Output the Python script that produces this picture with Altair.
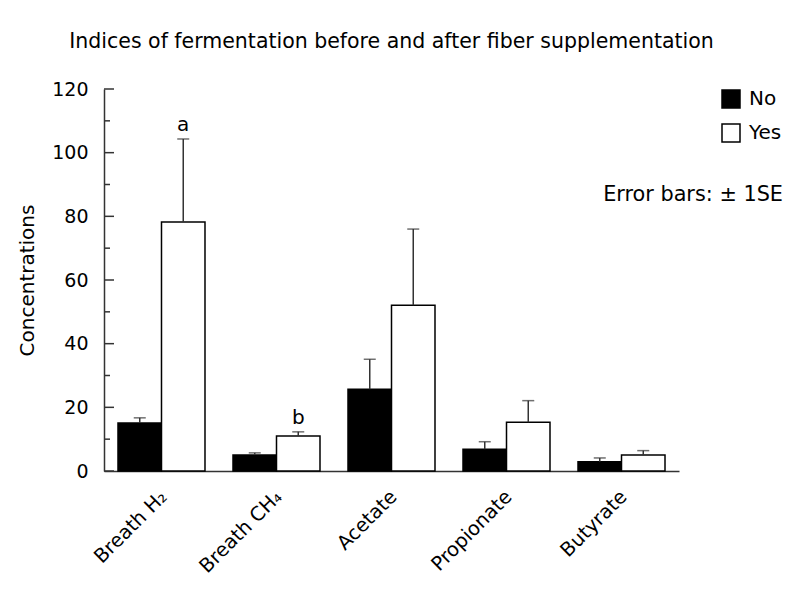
import altair as alt
import pandas as pd

categories = ["Breath H₂", "Breath CH₄", "Acetate", "Propionate", "Butyrate"]
groups = ["No", "Yes"]
no_mean = [15.1, 5.0, 25.7, 6.8, 2.9]
no_se = [1.6, 0.7, 9.4, 2.4, 1.2]
yes_mean = [78.2, 11.0, 52.1, 15.3, 5.0]
yes_se = [26.1, 1.3, 23.9, 6.8, 1.4]
sig_labels = ["a", "b", "", "", ""]
major_ticks = [0, 20, 40, 60, 80, 100, 120]
minor_ticks = [10, 30, 50, 70, 90, 110]

rows = []
for i, c in enumerate(categories):
    rows.append({"cat": c, "grp": "No", "mean": no_mean[i], "top": no_mean[i] + no_se[i], "sig": ""})
    rows.append({"cat": c, "grp": "Yes", "mean": yes_mean[i], "top": yes_mean[i] + yes_se[i], "sig": sig_labels[i]})
df = pd.DataFrame(rows)

FONT = "DejaVu Sans"
YT = "Concentrations"

xenc = alt.X("cat:N", sort=categories, title=None,
             scale=alt.Scale(paddingInner=0.2435, paddingOuter=0.1217))
xoff = alt.XOffset("grp:N", sort=groups, scale=alt.Scale(paddingInner=0, paddingOuter=0))
yscale = alt.Scale(domain=[0, 120], nice=False)
yaxis = alt.Axis(values=major_ticks)

base = alt.Chart(df)

bars = base.mark_bar(stroke="black", strokeWidth=1.5).encode(
    x=xenc,
    xOffset=xoff,
    y=alt.Y("mean:Q", scale=yscale, title=YT, axis=yaxis),
    fill=alt.Fill("grp:N", sort=groups,
                  scale=alt.Scale(domain=groups, range=["black", "white"]),
                  legend=alt.Legend(title=None, orient="none", legendX=617, legendY=0,
                                    symbolType="square", symbolSize=324,
                                    symbolStrokeColor="black", symbolStrokeWidth=1.5,
                                    labelFontSize=20, labelFont=FONT, labelColor="black",
                                    rowPadding=10, padding=0, labelOffset=8)),
)

err_rule = base.mark_rule(color="#333", strokeWidth=1.5).encode(
    x=xenc, xOffset=xoff,
    y=alt.Y("mean:Q", scale=yscale, title=YT, axis=yaxis), y2="top:Q",
)
err_cap = base.mark_tick(color="#333", thickness=1.5, size=12).encode(
    x=xenc, xOffset=xoff,
    y=alt.Y("top:Q", scale=yscale, title=YT, axis=yaxis),
)
sig = base.mark_text(fontSize=20, font=FONT, color="black", baseline="alphabetic", dy=-8).encode(
    x=xenc, xOffset=xoff,
    y=alt.Y("top:Q", scale=yscale, title=YT, axis=yaxis),
    text="sig:N",
)

major_df = pd.DataFrame({"v": major_ticks})
minor_df = pd.DataFrame({"v": minor_ticks})
major = alt.Chart(major_df).mark_rule(color="#333", strokeWidth=1.5).encode(
    y=alt.Y("v:Q", scale=yscale, title=YT, axis=yaxis), x=alt.value(0), x2=alt.value(10))
minor = alt.Chart(minor_df).mark_rule(color="#333", strokeWidth=1.5).encode(
    y=alt.Y("v:Q", scale=yscale, title=YT, axis=yaxis), x=alt.value(0), x2=alt.value(6))

note_df = pd.DataFrame({"t": ["Error bars: ± 1SE"]})
note = alt.Chart(note_df).mark_text(fontSize=20.8, font=FONT, color="black",
                                    align="right", baseline="alphabetic").encode(
    x=alt.value(679), y=alt.value(112), text="t:N")

chart = alt.layer(bars, err_rule, err_cap, sig, major, minor, note).properties(
    width=575, height=382,
    background="white",
    title=alt.TitleParams("Indices of fermentation before and after fiber supplementation",
                          fontSize=20.5, font=FONT, fontWeight="normal", color="black",
                          anchor="middle", offset=28),
    autosize=alt.AutoSizeParams(type="none"),
    padding={"left": 96, "top": 81, "right": 113, "bottom": 114},
).configure_view(
    strokeOpacity=0, strokeWidth=0
).configure_axisX(
    labelAngle=-45, labelFontSize=19.5, labelFont=FONT, labelColor="black",
    ticks=False, grid=False, domainColor="#333", domainWidth=1.5,
    labelPadding=16, labelOffset=-4,
).configure_axisY(
    ticks=False, grid=False, labelFontSize=19,
    labelFont=FONT, labelColor="black", labelPadding=16,
    domainColor="#333", domainWidth=1.5,
    titleFontSize=20, titleFont=FONT, titleFontWeight="normal",
    titleColor="black", titlePadding=14,
)

chart.save("out.html", embed_options={"renderer": "svg", "actions": False})
